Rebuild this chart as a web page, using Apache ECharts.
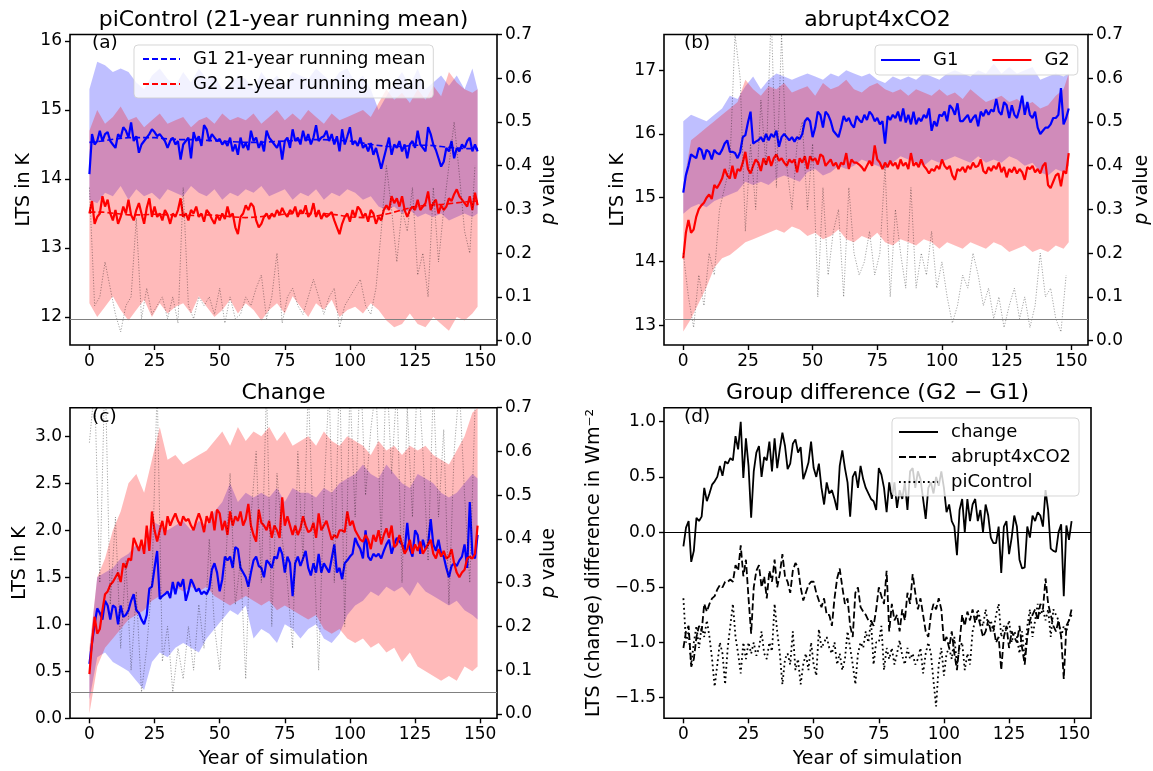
<!DOCTYPE html>
<html><head><meta charset="utf-8">
<script src="https://cdn.jsdelivr.net/npm/echarts@6/dist/echarts.min.js"></script>
<style>html,body{margin:0;padding:0;background:#fff}#chart{width:1153px;height:771px}</style>
</head><body><div id="chart"></div>
<script>
// ---------- x domains ----------
const YEARS = Array.from({length:150}, (_, i) => i);
const BAND_YEARS = Array.from({length:50}, (_, i) => i * 3).concat([149]);
const P_YEARS = Array.from({length:75}, (_, i) => i * 2);
const RM_YEARS = Array.from({length:30}, (_, i) => i * 5).concat([149]);
const X_TICKS = [0, 25, 50, 75, 100, 125, 150];
const A_TICKS = [12, 13, 14, 15, 16];
const B_TICKS = [13, 14, 15, 16, 17];
const C_TICKS = [0, 0.5, 1.0, 1.5, 2.0, 2.5, 3.0];
const D_TICKS = [-1.5, -1.0, -0.5, 0, 0.5, 1.0];
const P_TICKS = [0, 0.1, 0.2, 0.3, 0.4, 0.5, 0.6, 0.7];

// ---------- panel (a) piControl ----------
const a_G1 = [14.07,14.65,14.50,14.55,14.70,14.55,14.65,14.68,14.55,14.50,
14.45,14.65,14.60,14.75,14.70,14.60,14.82,14.55,14.62,14.38,
14.50,14.55,14.60,14.65,14.72,14.68,14.62,14.65,14.60,14.55,
14.45,14.55,14.60,14.50,14.55,14.28,14.50,14.55,14.60,14.30,
14.68,14.55,14.62,14.48,14.78,14.72,14.55,14.65,14.60,14.55,
14.58,14.50,14.55,14.48,14.60,14.40,14.50,14.35,14.60,14.45,
14.52,14.42,14.70,14.55,14.60,14.45,14.55,14.40,14.70,14.60,
14.55,14.50,14.45,14.55,14.28,14.55,14.60,14.45,14.72,14.55,
14.60,14.50,14.70,14.55,14.65,14.50,14.60,14.78,14.55,14.60,
14.62,14.70,14.55,14.65,14.50,14.62,14.40,14.72,14.50,14.62,
14.75,14.50,14.55,14.48,14.60,14.45,14.50,14.40,14.52,14.35,
14.45,14.30,14.15,14.30,14.45,14.60,14.35,14.50,14.45,14.55,
14.40,14.50,14.30,14.50,14.55,14.45,14.70,14.50,14.45,14.40,
14.75,14.65,14.50,14.42,14.30,14.18,14.25,14.45,14.40,14.55,
14.30,14.45,14.40,14.50,14.45,14.55,14.60,14.40,14.50,14.40];
const a_G2 = [13.50,13.68,13.35,13.45,13.50,13.75,13.60,13.70,13.50,13.40,
13.55,13.35,13.45,13.60,13.50,13.70,13.48,13.40,13.55,13.65,
13.50,13.35,13.58,13.72,13.45,13.60,13.45,13.50,13.40,13.55,
13.48,13.35,13.50,13.45,13.55,13.72,13.45,13.50,13.40,13.55,
13.50,13.60,13.45,13.50,13.38,13.55,13.50,13.42,13.35,13.48,
13.40,13.50,13.42,13.60,13.45,13.50,13.30,13.20,13.45,13.50,
13.62,13.55,13.65,13.60,13.40,13.30,13.35,13.45,13.50,13.42,
13.50,13.45,13.55,13.48,13.58,13.50,13.45,13.55,13.50,13.60,
13.45,13.55,13.50,13.62,13.45,13.50,13.65,13.45,13.55,13.42,
13.50,13.45,13.48,13.52,13.40,13.30,13.20,13.35,13.45,13.50,
13.38,13.55,13.45,13.60,13.55,13.45,13.50,13.38,13.55,13.50,
13.35,13.45,13.40,13.55,13.62,13.55,13.75,13.65,13.72,13.60,
13.75,13.55,13.45,13.55,13.60,13.55,13.70,13.55,13.60,13.65,
13.82,13.55,13.65,13.70,13.50,13.62,13.55,13.60,13.72,13.68,
13.78,13.85,13.75,13.70,13.65,13.60,13.75,13.55,13.80,13.62];
const a_G1_rm = [14.53,14.55,14.58,14.60,14.60,14.60,14.58,14.57,14.57,14.56,
14.55,14.54,14.53,14.53,14.54,14.55,14.56,14.57,14.57,14.56,
14.55,14.52,14.49,14.47,14.47,14.49,14.49,14.47,14.45,14.44,14.44];
const a_G2_rm = [13.52,13.52,13.50,13.48,13.48,13.49,13.48,13.48,13.47,13.48,
13.47,13.45,13.44,13.45,13.47,13.49,13.50,13.50,13.50,13.48,
13.45,13.44,13.46,13.50,13.55,13.60,13.62,13.63,13.65,13.67,13.68];
const a_G1_hi = [15.30,15.70,15.65,15.55,15.60,15.55,15.40,15.30,15.50,15.60,
15.45,15.35,15.55,15.40,15.60,15.45,15.50,15.30,15.35,15.50,
15.45,15.30,15.55,15.40,15.50,15.35,15.55,15.50,15.45,15.60,
15.50,15.40,15.55,15.60,15.40,15.50,15.30,15.00,15.20,15.40,
15.55,15.35,15.60,15.30,15.40,15.50,15.35,15.50,15.30,15.60,15.30];
const a_G1_lo = [13.70,13.65,13.80,13.75,13.90,13.70,13.85,13.75,13.80,13.70,
13.85,13.80,13.75,13.90,13.80,13.75,13.85,13.70,13.80,13.75,
13.85,13.80,13.90,13.75,13.80,13.85,13.70,13.80,13.75,13.85,
13.70,13.80,13.75,13.85,13.80,13.70,13.75,13.60,13.55,13.60,
13.50,13.55,13.45,13.50,13.45,13.50,13.40,13.45,13.50,13.45,13.50];
const a_G2_hi = [14.70,15.00,14.80,14.90,15.05,14.85,14.90,14.75,14.85,14.95,
14.80,14.85,14.90,14.75,14.85,14.90,14.80,14.95,14.85,14.90,
14.85,14.95,14.80,14.90,15.00,14.85,14.95,14.85,15.00,14.90,
14.80,14.95,14.85,14.90,14.95,15.00,14.90,15.10,15.30,15.15,
15.25,15.10,15.30,15.15,15.35,15.20,15.55,15.40,15.30,15.25,15.30];
const a_G2_lo = [12.20,12.00,12.15,12.30,12.10,11.95,12.10,12.25,12.00,12.20,
12.05,12.15,12.20,12.05,12.30,12.15,12.00,12.10,12.25,12.05,
12.20,12.10,11.95,12.10,12.20,12.05,12.30,12.15,12.00,12.20,
12.10,12.25,12.00,12.10,12.15,12.05,12.20,12.10,11.95,11.85,
11.90,12.05,11.90,11.85,12.00,11.90,11.80,12.00,11.95,12.05,12.15];
const a_p = [0.35,0.08,0.10,0.18,0.12,0.06,0.02,0.08,0.10,0.28,
0.05,0.12,0.06,0.08,0.10,0.05,0.10,0.04,0.35,0.08,
0.05,0.10,0.08,0.10,0.06,0.12,0.04,0.10,0.05,0.06,
0.10,0.08,0.12,0.15,0.05,0.10,0.20,0.04,0.10,0.12,
0.08,0.06,0.10,0.14,0.10,0.06,0.10,0.12,0.03,0.08,
0.10,0.12,0.14,0.08,0.06,0.12,0.25,0.40,0.30,0.18,
0.30,0.25,0.35,0.15,0.20,0.10,0.35,0.18,0.30,0.40,
0.50,0.38,0.25,0.20,0.40];

// ---------- panel (b) abrupt4xCO2 ----------
const b_G1 = [15.08,15.35,15.50,15.68,15.65,15.62,15.78,15.75,15.60,15.75,
15.72,15.60,15.75,15.70,15.68,15.75,15.85,15.90,15.72,15.72,
15.70,15.62,15.72,15.95,15.98,16.18,16.35,15.85,15.88,15.90,
15.95,15.88,16.00,15.90,16.00,15.95,16.05,15.80,15.95,16.00,
15.95,15.90,15.95,15.88,15.95,15.92,16.00,16.20,16.25,16.20,
15.95,16.10,16.35,16.30,16.10,16.35,16.30,16.20,16.05,16.00,
15.95,16.10,16.28,16.20,16.25,16.15,16.10,16.28,16.22,16.18,
16.30,16.22,16.35,16.30,16.20,16.25,16.15,16.20,15.85,16.28,
16.22,16.30,16.25,16.35,16.20,16.40,16.18,16.30,16.15,16.35,
16.15,16.25,16.20,16.30,16.25,16.40,16.05,16.20,16.12,16.30,
16.28,16.35,16.20,16.45,16.40,16.30,16.48,16.20,16.20,16.25,
16.30,16.18,16.25,16.30,16.12,16.35,16.28,16.38,16.30,16.38,
16.35,16.55,16.35,16.30,16.50,16.45,16.25,16.45,16.30,16.25,
16.40,16.60,16.30,16.50,16.30,16.25,16.35,16.10,16.00,16.05,
16.10,16.10,16.15,16.25,16.25,16.30,16.72,16.15,16.25,16.40];
const b_G2 = [14.05,14.45,14.65,14.45,14.50,14.70,14.82,14.88,14.92,15.00,
15.05,14.98,15.20,15.15,15.22,15.30,15.45,15.35,15.30,15.50,
15.30,15.45,15.42,15.55,15.72,15.45,15.38,15.50,15.60,15.55,
15.42,15.62,15.52,15.65,15.50,15.62,15.68,15.58,15.62,15.55,
15.50,15.60,15.55,15.60,15.40,15.62,15.55,15.65,15.45,15.65,
15.58,15.62,15.52,15.68,15.65,15.50,15.55,15.60,15.50,15.55,
15.45,15.55,15.52,15.70,15.45,15.60,15.55,15.55,15.52,15.48,
15.42,15.50,15.58,15.50,15.82,15.60,15.55,15.45,15.55,15.48,
15.58,15.50,15.55,15.45,15.60,15.50,15.55,15.45,15.70,15.50,
15.55,15.48,15.60,15.50,15.45,15.38,15.45,15.42,15.50,15.45,
15.60,15.50,15.45,15.50,15.35,15.28,15.45,15.42,15.48,15.40,
15.50,15.45,15.55,15.48,15.50,15.60,15.42,15.38,15.48,15.42,
15.50,15.45,15.55,15.40,15.48,15.32,15.45,15.40,15.48,15.38,
15.45,15.40,15.28,15.48,15.45,15.50,15.40,15.45,15.38,15.50,
15.55,15.20,15.15,15.25,15.35,15.38,15.18,15.42,15.38,15.70];
const b_G1_hi = [16.20,16.30,16.25,16.20,16.30,16.40,16.60,16.55,16.75,16.90,
16.70,16.85,16.95,16.90,16.85,16.90,16.95,16.90,16.85,16.95,
16.90,17.00,16.95,16.90,16.95,16.85,16.80,16.90,16.85,16.90,
16.85,16.95,16.90,16.85,16.95,17.00,16.95,16.90,17.00,16.95,
17.10,16.95,17.05,16.95,17.00,17.05,16.85,16.90,16.95,16.90,16.95];
const b_G1_lo = [14.75,14.85,14.90,14.85,14.95,15.00,15.05,15.10,15.25,15.20,
15.25,15.20,15.30,15.35,15.30,15.25,15.40,15.45,15.35,15.40,
15.50,15.45,15.50,15.60,15.55,15.50,15.45,15.55,15.65,15.60,
15.55,15.50,15.60,15.55,15.60,15.65,15.60,15.55,15.65,15.55,
15.60,15.55,15.65,15.60,15.50,15.55,15.40,15.35,15.45,15.40,15.50];
const b_G2_hi = [15.20,15.90,16.00,16.10,16.20,16.30,16.40,16.50,16.85,16.70,
16.60,16.75,16.70,16.80,16.65,16.70,16.75,16.60,16.80,16.70,
16.75,16.85,16.70,16.65,16.75,16.80,16.70,16.65,16.70,16.60,
16.70,16.65,16.60,16.70,16.60,16.65,16.55,16.70,16.60,16.50,
16.55,16.60,16.50,16.55,16.45,16.50,16.40,16.45,16.60,16.70,16.95];
const b_G2_lo = [12.90,13.10,13.35,13.60,13.90,14.05,14.10,14.20,14.30,14.35,
14.40,14.45,14.50,14.45,14.55,14.50,14.40,14.45,14.35,14.40,
14.50,14.35,14.30,14.40,14.35,14.45,14.30,14.25,14.35,14.30,
14.25,14.35,14.30,14.20,14.30,14.25,14.20,14.30,14.25,14.20,
14.30,14.25,14.15,14.20,14.25,14.15,14.20,14.15,14.25,14.20,14.30];
const b_p = [0.20,0.10,0.03,0.15,0.08,0.20,0.15,0.30,0.35,0.40,
0.70,0.60,0.25,0.45,0.30,0.55,0.40,0.75,0.35,0.70,
0.40,0.30,0.45,0.50,0.30,0.45,0.10,0.35,0.15,0.25,
0.30,0.10,0.35,0.20,0.15,0.18,0.25,0.15,0.20,0.40,
0.10,0.30,0.20,0.12,0.35,0.12,0.20,0.15,0.25,0.12,
0.18,0.10,0.04,0.08,0.15,0.12,0.20,0.15,0.08,0.12,
0.05,0.10,0.03,0.08,0.12,0.05,0.10,0.03,0.08,0.20,
0.10,0.12,0.05,0.02,0.15];

// ---------- panel (c) change ----------
const c_G1 = [0.58,0.80,1.00,1.17,1.12,1.05,1.25,1.20,1.05,1.20,
1.18,1.00,1.20,1.08,1.10,1.15,1.25,1.32,1.15,1.12,
1.05,1.00,1.10,1.38,1.40,1.60,1.78,1.27,1.30,1.32,
1.35,1.28,1.45,1.32,1.45,1.40,1.48,1.25,1.35,1.48,
1.42,1.35,1.38,1.32,1.35,1.32,1.38,1.58,1.65,1.55,
1.35,1.48,1.72,1.68,1.72,1.60,1.82,1.80,1.60,1.55,
1.50,1.40,1.55,1.68,1.72,1.62,1.60,1.50,1.68,1.65,
1.60,1.72,1.70,1.82,1.75,1.55,1.72,1.65,1.30,1.65,
1.72,1.62,1.70,1.78,1.60,1.52,1.65,1.55,1.75,1.55,
1.65,1.60,1.55,1.70,1.85,1.55,1.60,1.48,1.65,1.68,
1.72,1.75,1.92,1.85,1.80,1.70,2.00,1.72,1.68,1.75,
1.72,1.75,1.70,1.78,1.85,1.90,1.75,1.85,1.92,1.88,
1.85,1.78,2.08,1.80,1.72,2.00,1.95,1.75,1.90,1.80,
1.85,2.12,1.85,1.78,1.90,1.75,1.72,1.60,1.50,1.62,
1.65,1.62,1.68,1.72,1.85,1.60,2.30,1.75,1.70,1.95];
const c_G2 = [0.47,0.80,1.08,0.90,0.95,1.15,1.32,1.35,1.42,1.45,
1.50,1.55,1.45,1.65,1.60,1.70,1.68,1.92,1.85,1.78,
1.90,1.75,2.05,1.78,2.20,2.00,1.88,2.00,2.10,1.95,
2.15,2.05,2.12,2.18,2.10,2.05,2.15,2.10,2.12,2.05,
2.00,2.10,2.18,2.10,1.98,2.15,2.08,2.20,2.00,2.22,
2.18,2.00,2.10,1.95,2.20,2.05,2.15,2.10,2.20,2.05,
2.12,2.28,2.05,1.95,1.88,2.22,2.08,2.05,2.00,2.10,
1.92,2.05,2.00,1.92,2.35,2.05,2.15,2.05,1.95,2.05,
1.95,2.02,2.15,2.05,1.98,2.00,2.08,1.92,2.18,2.00,
2.05,2.10,2.00,1.90,1.95,1.92,2.00,2.00,1.98,2.20,
2.05,2.10,2.00,1.95,1.90,1.88,1.95,1.90,1.80,1.95,
1.88,2.00,1.85,1.95,2.02,1.92,2.05,1.82,1.85,1.95,
1.85,1.75,1.80,1.90,1.75,1.85,1.78,1.88,1.75,1.80,
1.85,1.90,1.75,1.70,1.80,1.72,1.78,1.70,1.72,1.80,
1.65,1.55,1.50,1.55,1.58,1.70,1.72,1.70,1.75,2.05];
const c_G1_hi = [0.70,1.50,1.55,1.60,1.70,1.75,1.85,1.80,2.10,2.05,
2.00,2.05,2.10,2.00,2.10,2.05,2.20,2.30,2.50,2.30,
2.40,2.35,2.40,2.35,2.45,2.30,2.45,2.40,2.40,2.35,
2.45,2.40,2.50,2.55,2.60,2.70,2.60,2.55,2.70,2.60,
2.50,2.45,2.60,2.55,2.50,2.40,2.35,2.40,2.50,2.60,2.55];
const c_G1_lo = [0.20,0.65,0.70,0.60,0.55,0.50,0.40,0.30,0.60,0.70,
0.65,0.75,0.80,0.75,0.70,0.85,0.95,1.05,1.15,1.10,
1.20,0.85,0.95,0.90,0.80,1.00,0.95,0.85,0.95,1.00,
0.85,0.80,0.90,1.10,1.20,1.25,1.35,1.30,1.40,1.35,
1.40,1.30,1.45,1.35,1.30,1.25,1.20,1.25,1.15,1.10,1.05];
const c_G2_hi = [0.75,1.50,1.70,2.00,2.20,2.50,2.60,2.40,2.75,3.10,
2.75,2.80,2.70,2.75,2.80,2.85,2.95,3.05,2.90,3.10,
2.95,3.05,3.00,3.10,2.95,3.05,2.90,2.95,3.00,2.90,
3.05,2.95,2.90,3.00,2.95,2.90,2.80,2.95,2.85,2.90,
2.80,2.90,2.85,2.90,2.80,2.75,2.70,2.85,3.00,3.25,3.30];
const c_G2_lo = [0.05,0.55,0.75,0.85,0.95,1.05,1.10,1.15,1.25,1.30,
1.35,1.40,1.35,1.40,1.35,1.40,1.30,1.25,1.20,1.25,
1.30,1.25,1.20,1.25,1.15,1.20,1.15,1.10,1.05,1.10,
0.95,0.90,0.95,0.85,0.80,0.85,0.75,0.80,0.70,0.75,
0.60,0.70,0.55,0.50,0.45,0.40,0.45,0.40,0.55,0.50,0.55];
const c_p = [0.62,0.75,0.30,0.80,0.25,0.45,0.15,0.35,0.10,0.28,
0.05,0.15,0.30,0.75,0.12,0.20,0.05,0.15,0.08,0.20,
0.10,0.25,0.15,0.40,0.20,0.10,0.30,0.55,0.25,0.35,
0.08,0.45,0.60,0.30,0.75,0.20,0.55,0.40,0.30,0.15,
0.60,0.35,0.75,0.40,0.10,0.50,0.75,0.30,0.80,0.20,
0.75,0.45,0.80,0.50,0.65,0.75,0.40,0.80,0.55,0.75,
0.30,0.70,0.45,0.80,0.60,0.35,0.75,0.45,0.65,0.25,
0.60,0.75,0.50,0.30,0.70];

// ---------- panel (d) group difference ----------
const d_change = [-0.13,0.04,0.10,-0.27,-0.17,0.13,0.10,0.14,0.40,0.28,
0.35,0.43,0.46,0.50,0.60,0.51,0.64,0.62,0.67,0.65,
0.87,0.75,1.00,0.49,0.85,0.60,0.13,0.55,0.72,0.78,
0.50,0.68,0.65,0.82,0.55,0.85,0.58,0.75,0.90,0.78,
0.57,0.62,0.80,0.84,0.72,0.77,0.48,0.55,0.63,0.82,
0.58,0.50,0.62,0.40,0.25,0.45,0.35,0.38,0.30,0.20,
0.60,0.74,0.58,0.45,0.14,0.50,0.55,0.40,0.60,0.48,
0.40,0.35,0.30,0.28,0.20,0.58,0.52,0.40,0.18,0.45,
0.30,0.45,0.22,0.38,0.30,0.45,0.20,0.55,0.58,0.40,
0.55,0.48,0.30,0.12,0.40,0.45,0.35,0.50,0.42,0.55,
0.40,0.18,0.25,0.10,0.05,-0.21,0.20,0.30,0.00,0.30,
0.10,0.25,0.30,0.10,0.20,0.00,0.25,0.15,-0.05,-0.10,
-0.10,0.05,-0.37,0.05,0.10,-0.20,-0.05,0.15,0.05,-0.25,
-0.33,-0.32,0.05,-0.05,0.15,0.10,0.18,0.15,0.05,0.38,
0.20,-0.15,-0.17,-0.18,0.00,0.07,-0.58,0.06,-0.07,0.10];
const d_abrupt = [-1.05,-0.90,-0.85,-1.22,-1.15,-0.95,-0.85,-0.90,-0.65,-0.72,
-0.65,-0.60,-0.58,-0.52,-0.48,-0.50,-0.45,-0.45,-0.43,-0.45,
-0.30,-0.35,-0.12,-0.40,-0.25,-0.60,-0.92,-0.50,-0.35,-0.30,
-0.50,-0.40,-0.60,-0.35,-0.45,-0.25,-0.50,-0.38,-0.20,-0.40,
-0.45,-0.55,-0.35,-0.28,-0.32,-0.50,-0.62,-0.55,-0.48,-0.45,
-0.45,-0.55,-0.62,-0.68,-0.60,-0.75,-0.75,-0.85,-0.60,-0.42,
-0.33,-0.50,-0.65,-0.60,-0.85,-0.95,-0.55,-0.50,-0.68,-0.72,
-0.75,-0.80,-0.80,-0.85,-0.70,-0.50,-0.58,-0.65,-0.35,-0.90,
-0.65,-0.80,-0.75,-0.90,-0.70,-0.80,-0.55,-0.65,-0.38,-0.55,
-0.70,-0.60,-0.75,-0.90,-0.95,-0.75,-0.65,-0.70,-0.60,-0.70,
-1.00,-0.95,-1.05,-0.90,-1.10,-1.25,-1.00,-0.75,-0.85,-0.72,
-0.80,-0.70,-0.82,-0.75,-0.85,-0.95,-0.90,-0.80,-0.90,-0.85,
-1.00,-0.95,-1.25,-0.95,-0.85,-1.05,-0.90,-0.95,-1.00,-0.85,
-1.05,-1.20,-0.95,-0.80,-0.75,-0.70,-0.80,-0.65,-0.70,-0.42,
-0.65,-0.75,-0.85,-0.90,-0.80,-0.95,-1.33,-0.85,-0.80,-0.70];
const d_pi = [-0.60,-1.00,-0.90,-1.20,-1.00,-0.85,-1.05,-0.85,-0.95,-0.80,
-0.95,-1.15,-1.40,-1.20,-1.00,-1.10,-1.38,-1.05,-0.85,-0.65,
-0.95,-1.10,-1.28,-1.00,-1.15,-1.00,-1.10,-1.00,-1.12,-1.05,
-0.90,-1.10,-1.15,-1.00,-1.08,-0.65,-0.90,-1.10,-1.38,-1.15,
-1.10,-1.20,-0.90,-1.25,-1.15,-1.38,-1.20,-1.10,-1.25,-1.00,
-1.20,-1.30,-0.88,-1.05,-1.00,-0.95,-1.05,-1.10,-1.00,-1.20,
-1.10,-1.25,-1.15,-0.90,-1.05,-1.20,-1.38,-1.10,-1.00,-1.05,
-0.90,-1.00,-0.80,-1.20,-1.00,-1.00,-0.85,-1.25,-1.05,-1.15,
-1.05,-1.20,-1.10,-0.98,-1.12,-1.20,-1.05,-1.15,-1.10,-1.20,
-1.15,-1.05,-1.28,-1.10,-1.00,-1.10,-1.35,-1.58,-1.20,-1.05,
-1.30,-1.10,-1.05,-1.15,-0.95,-1.20,-1.05,-1.00,-1.25,-1.10,
-1.20,-0.90,-0.80,-0.70,-0.80,-0.85,-0.70,-0.85,-0.80,-0.90,
-0.75,-0.65,-0.95,-0.85,-0.90,-0.80,-1.00,-0.90,-0.95,-1.10,
-0.90,-1.15,-0.85,-0.70,-0.95,-0.80,-0.65,-0.75,-0.70,-0.80,
-0.70,-0.95,-0.70,-0.75,-0.80,-0.95,-0.85,-0.90,-0.80,-0.75];

// ---------- helpers ----------
const FONT = 'DejaVu Sans';
const BLUE = '#0000ff', RED = '#ff0000';
const BLUE_FILL = 'rgba(0,0,255,0.25)', RED_FILL = 'rgba(255,0,0,0.27)';
const pairs = (xs, ys) => xs.map((x, i) => [x, ys[i]]);
const fmt1 = v => v.toFixed(1).replace('-', '\u2212');
const fmt0 = v => String(Math.round(v));

function bandSeries(xi, yi, lo, hi, color, z) {
  const rows = BAND_YEARS.map((x, i) => [x, lo[i], hi[i]]);
  return {
    type: 'custom', xAxisIndex: xi, yAxisIndex: yi, silent: true, z: z,
    data: rows, encode: {x: 0, y: [1, 2]},
    renderItem(params, api) {
      if (params.dataIndex !== 0) return null;
      const top = rows.map(r => api.coord([r[0], r[2]]));
      const bot = rows.map(r => api.coord([r[0], r[1]])).reverse();
      return {type: 'polygon', shape: {points: top.concat(bot)}, style: {fill: color}};
    }
  };
}
function lineSeries(name, xi, yi, xs, ys, color, width, type, z) {
  return {
    type: 'line', name, xAxisIndex: xi, yAxisIndex: yi, data: pairs(xs, ys),
    symbol: 'none', showSymbol: false, silent: true, z: z || 3,
    lineStyle: {color, width, type: type || 'solid'}, itemStyle: {color}
  };
}
function pSeries(xi, yi, ys) {
  const s = lineSeries('p', xi, yi, P_YEARS, ys, 'rgba(0,0,0,0.45)', 0.8, [1.2, 1.6], 4);
  s.markLine = {silent: true, symbol: ['none', 'none'], label: {show: false},
    lineStyle: {color: '#808080', width: 1, type: 'solid'}, data: [{yAxis: 0.05}]};
  return s;
}

const GRIDS = [
  {left: 70, top: 34.5, width: 427, height: 310.5},
  {left: 664, top: 34.5, width: 427, height: 310.5},
  {left: 70, top: 407.7, width: 427, height: 310.6},
  {left: 664, top: 407.7, width: 427, height: 310.6}
].map(g => Object.assign({show: true, borderColor: '#000', borderWidth: 1.6, backgroundColor: 'transparent', containLabel: false}, g));

const tickStyle = {show: true, length: 5, lineStyle: {color: '#000', width: 1.4}};
function xAxis(gi, withName) {
  return {
    type: 'value', gridIndex: gi, min: -7.45, max: 156.45, position: 'bottom',
    axisLine: {show: false, onZero: false}, splitLine: {show: false},
    axisTick: Object.assign({customValues: X_TICKS}, tickStyle),
    axisLabel: {customValues: X_TICKS, fontSize: 17, color: '#000', margin: 8, fontFamily: FONT, formatter: fmt0},
    name: withName ? 'Year of simulation' : '', nameLocation: 'middle', nameGap: 31,
    nameTextStyle: {fontSize: 19, color: '#000', fontFamily: FONT}
  };
}
function yAxis(gi, min, max, ticks, fmt, pos, name, nameGap, rich) {
  return {
    type: 'value', gridIndex: gi, min, max, position: pos,
    axisLine: {show: false, onZero: false}, splitLine: {show: false},
    axisTick: Object.assign({customValues: ticks}, tickStyle),
    axisLabel: {customValues: ticks, fontSize: 17, color: '#000', margin: 8, fontFamily: FONT, formatter: fmt},
    name, nameLocation: 'middle', nameGap,
    nameTextStyle: {fontSize: 19, color: '#000', fontFamily: FONT, rich: rich || {}}
  };
}
const pRich = {it: {fontStyle: 'italic', fontSize: 19, fontFamily: FONT, color: '#000'}};
const P_NAME = '{it|p} value';

const yAxes = [
  yAxis(0, 11.594, 16.094, A_TICKS, fmt0, 'left', 'LTS in K', 36),
  yAxis(0, -0.01, 0.7, P_TICKS, fmt1, 'right', P_NAME, 43, pRich),
  yAxis(1, 12.69, 17.56, B_TICKS, fmt0, 'left', 'LTS in K', 36),
  yAxis(1, -0.01, 0.7, P_TICKS, fmt1, 'right', P_NAME, 45, pRich),
  yAxis(2, 0, 3.304, C_TICKS, fmt1, 'left', 'LTS in K', 40),
  yAxis(2, -0.01, 0.7, P_TICKS, fmt1, 'right', P_NAME, 43, pRich),
  yAxis(3, -1.687, 1.127, D_TICKS, fmt1, 'left', 'LTS (change) difference in Wm\u207B\u00B2', 60)
];

const series = [
  // (a)
  bandSeries(0, 0, a_G1_lo, a_G1_hi, BLUE_FILL, 1),
  bandSeries(0, 0, a_G2_lo, a_G2_hi, RED_FILL, 2),
  lineSeries('G1 piControl', 0, 0, YEARS, a_G1, BLUE, 2.2),
  lineSeries('G2 piControl', 0, 0, YEARS, a_G2, RED, 2.2),
  lineSeries('G1 21-year running mean', 0, 0, RM_YEARS, a_G1_rm, BLUE, 1.6, [6, 3]),
  lineSeries('G2 21-year running mean', 0, 0, RM_YEARS, a_G2_rm, RED, 1.6, [6, 3]),
  pSeries(0, 1, a_p),
  // (b)
  bandSeries(1, 2, b_G1_lo, b_G1_hi, BLUE_FILL, 1),
  bandSeries(1, 2, b_G2_lo, b_G2_hi, RED_FILL, 2),
  lineSeries('G1', 1, 2, YEARS, b_G1, BLUE, 2.2),
  lineSeries('G2', 1, 2, YEARS, b_G2, RED, 2.2),
  pSeries(1, 3, b_p),
  // (c)
  bandSeries(2, 4, c_G1_lo, c_G1_hi, BLUE_FILL, 1),
  bandSeries(2, 4, c_G2_lo, c_G2_hi, RED_FILL, 2),
  lineSeries('G1 change', 2, 4, YEARS, c_G1, BLUE, 2.2),
  lineSeries('G2 change', 2, 4, YEARS, c_G2, RED, 2.2),
  pSeries(2, 5, c_p),
  // (d)
  Object.assign(lineSeries('change', 3, 6, YEARS, d_change, '#000', 1.8), {
    markLine: {silent: true, symbol: ['none', 'none'], label: {show: false},
      lineStyle: {color: '#000', width: 1, type: 'solid'}, data: [{yAxis: 0}]}}),
  lineSeries('abrupt4xCO2', 3, 6, YEARS, d_abrupt, '#000', 1.8, [7, 3]),
  lineSeries('piControl', 3, 6, YEARS, d_pi, '#000', 1.8, [1.8, 3])
];

const legendBase = {
  backgroundColor: 'rgba(255,255,255,0.8)', borderColor: 'rgba(204,204,204,0.8)',
  borderWidth: 1, borderRadius: 4, selectedMode: false, itemHeight: 14,
  itemStyle: {opacity: 0, borderWidth: 0},
  textStyle: {fontSize: 18, color: '#000', fontFamily: FONT, padding: [0, 0, 0, 8]}, z: 10
};
const legends = [
  Object.assign({}, legendBase, {orient: 'vertical', left: 134, top: 45, itemWidth: 37, itemGap: 7,
    padding: [5, 8, 5, 8], data: ['G1 21-year running mean', 'G2 21-year running mean']}),
  Object.assign({}, legendBase, {orient: 'horizontal', left: 875, top: 45, itemWidth: 39, itemGap: 33,
    padding: [6, 8, 6, 5], data: ['G1', 'G2']}),
  Object.assign({}, legendBase, {orient: 'vertical', left: 892, top: 418, itemWidth: 39, itemGap: 7,
    padding: [5, 8, 5, 6], data: ['change', 'abrupt4xCO2', 'piControl']})
];

function txt(text, x, y, size, align) {
  return {type: 'text', x, y, z: 100, silent: true,
    style: {text, fontSize: size, fontFamily: FONT, fill: '#000', align: align || 'center', verticalAlign: 'middle'}};
}
const graphics = [
  txt('piControl (21-year running mean)', 283.5, 20, 22),
  txt('abrupt4xCO2', 877.5, 20, 22),
  txt('Change', 283.5, 393, 22),
  txt('Group difference (G2 \u2212 G1)', 877.5, 393, 22),
  txt('(a)', 92, 43.5, 18.5, 'left'),
  txt('(b)', 684, 43.5, 18.5, 'left'),
  txt('(c)', 92, 417, 18.5, 'left'),
  txt('(d)', 684, 417, 18.5, 'left')
];

const chart = echarts.init(document.getElementById('chart'), null, {renderer: 'canvas'});
chart.setOption({
  animation: false,
  backgroundColor: '#fff',
  textStyle: {fontFamily: FONT},
  grid: GRIDS,
  xAxis: [xAxis(0, false), xAxis(1, false), xAxis(2, true), xAxis(3, true)],
  yAxis: yAxes,
  legend: legends,
  graphic: graphics,
  series
});
</script></body></html>
